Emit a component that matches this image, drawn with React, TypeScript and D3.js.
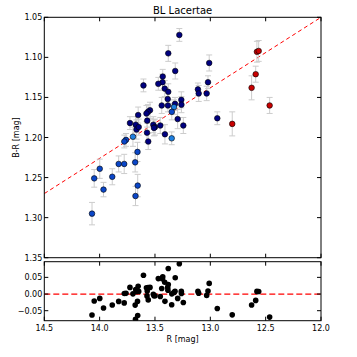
import React from "react";
import * as d3 from "d3";

// R magnitude, B-R colour, error and colour group
const rMag = [13.28, 13.38, 13.01, 13.317, 13.43, 13.432, 13.47, 13.604, 13.021, 13.412,
  13.38, 13.112, 13.105, 13.033, 13.385, 13.262, 13.319, 13.261, 13.439, 13.383,
  13.328, 13.348, 13.545, 13.563, 13.652, 13.577, 13.295, 12.937, 13.726, 13.674,
  13.57, 13.515, 13.5, 13.509, 13.667, 13.647, 13.572, 13.452, 13.244, 12.802,
  13.41, 13.699, 13.349, 13.561, 13.762, 13.777, 13.658, 13.679, 13.828, 13.778,
  13.999, 14.049, 13.886, 13.965, 13.656, 13.676, 14.069, 12.579, 12.563, 12.59,
  12.627, 12.464];
const brColor = [1.072, 1.095, 1.107, 1.117, 1.124, 1.131, 1.133, 1.135, 1.131, 1.139,
  1.143, 1.14, 1.145, 1.145, 1.152, 1.153, 1.158, 1.159, 1.16, 1.16,
  1.162, 1.168, 1.166, 1.168, 1.172, 1.17, 1.177, 1.176, 1.182, 1.184,
  1.179, 1.184, 1.187, 1.188, 1.19, 1.187, 1.194, 1.185, 1.185, 1.183,
  1.196, 1.199, 1.201, 1.205, 1.203, 1.205, 1.218, 1.231, 1.233, 1.233,
  1.239, 1.251, 1.249, 1.265, 1.26, 1.273, 1.295, 1.093, 1.092, 1.121,
  1.138, 1.16];
const brErr = [0.008, 0.01, 0.01, 0.01, 0.009, 0.01, 0.008, 0.008, 0.008, 0.01,
  0.01, 0.008, 0.01, 0.009, 0.009, 0.01, 0.008, 0.01, 0.01, 0.008,
  0.009, 0.01, 0.01, 0.009, 0.01, 0.01, 0.012, 0.008, 0.008, 0.01,
  0.008, 0.01, 0.01, 0.01, 0.012, 0.01, 0.012, 0.01, 0.01, 0.015,
  0.012, 0.012, 0.008, 0.01, 0.008, 0.008, 0.012, 0.012, 0.01, 0.012,
  0.012, 0.011, 0.01, 0.009, 0.014, 0.012, 0.014, 0.013, 0.013, 0.01,
  0.015, 0.01];
const group = "nnnnnnnnnnnnnnnnnnnnlbnnnnnnnnnnnnnnnnnrnllnbbbbbbbbbbbbbrrrrr".split("");
const groupColors: Record<string, string> = { n: "#000080", b: "#0a46c8", l: "#1e7fe0", r: "#c80000" };

// linear fit: B-R = fitA + fitB * (R - 12)
const fitA = 1.05;
const fitB = 0.088;

const xTicks = [14.5, 14.0, 13.5, 13.0, 12.5, 12.0];
const yTicks = [1.05, 1.1, 1.15, 1.2, 1.25, 1.3, 1.35];
const resTicks = [-0.05, 0, 0.05];

const fmt = d3.format(".2f");
const fmtX = d3.format(".1f");
const minus = (s: string) => s.replace("-", "\u2212");

export default function App() {
  const x = d3.scaleLinear().domain([14.5, 12.0]).range([44.3, 321]);
  const y = d3.scaleLinear().domain([1.05, 1.35]).range([17.3, 257.7]);
  const yr = d3.scaleLinear().domain([-0.08, 0.097]).range([320.7, 261.7]);
  const fit = (r: number) => fitA + fitB * (r - 12);
  const resid = rMag.map((r, i) => fit(r) - brColor[i]);

  const [x0, x1] = x.range();
  const font = "DejaVu Sans, sans-serif";
  const tl = 4;

  const fitLine = d3.line<number>().x(d => x(d)).y(d => y(fit(d)));

  return (
    <svg width={357} height={357} style={{ position: "absolute", left: 0, top: 0, background: "#fff" }}
      fontFamily={font}>
      <defs>
        <clipPath id="cTop"><rect x={x0} y={y(1.05)} width={x1 - x0} height={y(1.35) - y(1.05)} /></clipPath>
        <clipPath id="cRes"><rect x={x0} y={yr(0.097)} width={x1 - x0} height={yr(-0.08) - yr(0.097)} /></clipPath>
      </defs>
      <text x={(x0 + x1) / 2} y={14} fontSize={10} textAnchor="middle">BL Lacertae</text>

      {/* top panel */}
      <g clipPath="url(#cTop)">
        <path d={fitLine([14.5, 12.0]) || ""} stroke="#ff0000" strokeWidth={1} strokeDasharray="4,3" fill="none" />
        {rMag.map((r, i) => (
          <g key={"e" + i} stroke="#cccccc" strokeWidth={1}>
            <line x1={x(r)} x2={x(r)} y1={y(brColor[i] - brErr[i])} y2={y(brColor[i] + brErr[i])} />
            <line x1={x(r) - 3} x2={x(r) + 3} y1={y(brColor[i] - brErr[i])} y2={y(brColor[i] - brErr[i])} />
            <line x1={x(r) - 3} x2={x(r) + 3} y1={y(brColor[i] + brErr[i])} y2={y(brColor[i] + brErr[i])} />
          </g>
        ))}
        {rMag.map((r, i) => (
          <circle key={"p" + i} cx={x(r)} cy={y(brColor[i])} r={2.8}
            fill={groupColors[group[i]]} stroke="#000" strokeWidth={0.6} />
        ))}
      </g>
      <rect x={x0} y={y(1.05)} width={x1 - x0} height={y(1.35) - y(1.05)} fill="none" stroke="#000" strokeWidth={1} />
      {yTicks.map(t => (
        <g key={"yt" + t}>
          <line x1={x0} x2={x0 + tl} y1={y(t)} y2={y(t)} stroke="#000" />
          <line x1={x1} x2={x1 - tl} y1={y(t)} y2={y(t)} stroke="#000" />
          <text x={x0 - 2} y={y(t) + 3} fontSize={8} textAnchor="end">{fmt(t)}</text>
        </g>
      ))}
      {xTicks.map(t => (
        <g key={"xt" + t}>
          <line x1={x(t)} x2={x(t)} y1={y(1.05)} y2={y(1.05) + tl} stroke="#000" />
          <line x1={x(t)} x2={x(t)} y1={y(1.35)} y2={y(1.35) - tl} stroke="#000" />
        </g>
      ))}
      <text transform={`translate(19,${(y(1.05) + y(1.35)) / 2}) rotate(-90)`} fontSize={8} textAnchor="middle">B-R [mag]</text>

      {/* residual panel */}
      <g clipPath="url(#cRes)">
        <line x1={x0} x2={x1} y1={yr(0)} y2={yr(0)} stroke="#ff0000" strokeWidth={1.2} strokeDasharray="6,3" />
        {rMag.map((r, i) => (
          <circle key={"r" + i} cx={x(r)} cy={yr(resid[i])} r={2.8} fill="#000" />
        ))}
      </g>
      <rect x={x0} y={yr(0.097)} width={x1 - x0} height={yr(-0.08) - yr(0.097)} fill="none" stroke="#000" strokeWidth={1} />
      {resTicks.map(t => (
        <g key={"rt" + t}>
          <line x1={x0} x2={x0 + tl} y1={yr(t)} y2={yr(t)} stroke="#000" />
          <line x1={x1} x2={x1 - tl} y1={yr(t)} y2={yr(t)} stroke="#000" />
          <text x={x0 - 2} y={yr(t) + 3} fontSize={8} textAnchor="end">{minus(fmt(t))}</text>
        </g>
      ))}
      {xTicks.map(t => (
        <g key={"rx" + t}>
          <line x1={x(t)} x2={x(t)} y1={yr(0.097)} y2={yr(0.097) + tl} stroke="#000" />
          <line x1={x(t)} x2={x(t)} y1={yr(-0.08)} y2={yr(-0.08) - tl} stroke="#000" />
          <text x={x(t)} y={331} fontSize={8} textAnchor="middle">{fmtX(t)}</text>
        </g>
      ))}
      <text x={(x0 + x1) / 2} y={341.5} fontSize={8} textAnchor="middle">R [mag]</text>
    </svg>
  );
}
